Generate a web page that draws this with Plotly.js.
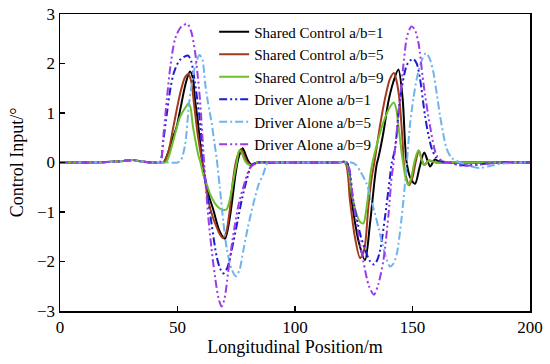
<!DOCTYPE html>
<html>
<head>
<meta charset="utf-8">
<script src="https://cdn.plot.ly/plotly-3.0.1.min.js"></script>
<style>html,body{margin:0;padding:0;background:#fff;}#chart{width:550px;height:364px;}</style>
</head>
<body>
<div id="chart"></div>
<script>
// Shared Control a/b=1
const sc1X = [0,10,20,27,31,35,40,44,46,48,49.6,51.5,53.5,55.3,56.5,57.4,58.6,59.6,60.6,62,63.5,65.2,68,70.2,72.3,74.5,75.5,76.5,77.7,78.8,80,81.6,84,90,100,110,118,122,124.1,127,129.8,131.9,134,134.8,135.5,137.6,139.7,141.8,144,145.8,146.8,147.5,149,151.1,153,155,157.5,159.5,162,170,180,190,200];
const sc1Y = [0,0,0.01,0.03,0.05,0.02,0,0,0.2,0.5,0.71,1.15,1.6,1.84,1.72,1.29,0.85,0.41,0,-0.4,-0.7,-0.95,-1.4,-1.54,-1.1,-0.3,0,0.18,0.29,0.18,0.04,-0.05,0,0,0,0,0,0,-0.77,-1.58,-1.97,-1.24,-0.3,-0.03,0.1,0.6,1.22,1.62,1.88,1.29,0.41,0,-0.3,-0.43,-0.1,0.2,-0.08,0.06,0,0,0,0,0];
// Shared Control a/b=5
const sc5X = [0,10,20,27,31,35,40,44,46,48.2,51.1,53.2,54.6,55.8,57,58.5,60.5,62,63.1,65,66.7,68,69.2,70.5,72,73.5,74.8,75.8,77,78.3,79.5,81,84,90,100,110,118,121.3,123.4,125.5,127.7,129.5,131.2,132.5,134,136.2,138.3,140.4,142.1,143.2,144.4,145.8,146.3,147.3,148.6,150,151.3,152.7,154,155,157,160,170,180,190,200];
const sc5Y = [0,0,0.01,0.03,0.05,0.02,0,0,0.2,0.71,1.39,1.72,1.79,1.65,1.2,0.6,0,-0.45,-0.77,-1.1,-1.31,-1.45,-1.52,-1.45,-1.05,-0.4,0,0.17,0.27,0.15,0.02,-0.05,0,0,0,0,0,0,-0.77,-1.51,-1.93,-1.75,-0.9,-0.35,0.07,0.75,1.29,1.69,1.81,1.65,1.29,0.41,0,-0.3,-0.46,-0.3,0,0.24,0.05,-0.05,0.04,0,0,0,0,0];
// Shared Control a/b=9
const sc9X = [0,10,20,27,31,35,40,45,46.5,48.2,51.1,53.9,54.6,55.5,56.5,57.8,58.9,59.8,61,62.4,64,66,68,69.5,70.8,72,73,74.2,75.2,76.3,77.3,78.5,80,81.6,84,90,100,110,118,121.7,124.1,126.2,127.7,129.1,130.2,131.2,132.2,133.3,135.5,137.6,140.4,142.1,143,144,145.5,146,147,148.2,149.5,151,152.5,154,155,157,160,170,180,190,200];
const sc9Y = [0,0,0.01,0.03,0.05,0.02,0,0,0.15,0.44,0.92,1.15,1.19,1.12,0.75,0.4,0.14,0,-0.25,-0.43,-0.65,-0.83,-0.93,-0.96,-0.95,-0.8,-0.57,-0.25,0,0.25,0.2,0.05,-0.04,-0.05,0,0,0,0,0,0,-0.63,-1.04,-1.2,-1.23,-1.0,-0.63,-0.2,0.07,0.48,0.81,1.12,1.21,1.1,0.75,0.15,0,-0.3,-0.46,-0.3,0.05,0.24,0.05,-0.05,0.04,0,0,0,0,0];
// Driver Alone a/b=1
const da1X = [0,10,20,27,31,35,40,42.5,44,45.5,47,48.5,51,54.4,55.8,57.4,58.6,59.6,60.9,62.5,64.5,66.7,68.2,69.5,71,73,75.9,77.5,79.4,81.6,84,90,100,110,118,122,124.8,127.7,130.5,132,133.6,135,136.2,138.3,140.4,141.2,142.6,144.7,147.5,149,150.4,151.8,153.2,155.3,156.8,158.2,160,162.5,166,170,175,187,200];
const da1Y = [0,0,0.01,0.03,0.05,0.02,0,0,0.45,1.0,1.5,1.82,2.07,2.16,2.05,1.62,1.2,0.81,0.04,-0.6,-1.24,-1.91,-2.15,-2.24,-2.15,-1.78,-1.1,-0.72,-0.36,-0.05,0,0,0,0,0,0,-0.77,-1.44,-1.85,-2.0,-2.06,-1.97,-1.78,-1.1,-0.3,0,0.28,1.29,1.96,2.06,2.09,2.0,1.69,0.95,0.55,0.28,0.1,0.02,0,-0.05,-0.05,0,0];
// Driver Alone a/b=5
const da5X = [0,10,20,27,31,35,40,46,50,51.5,53.2,55,57,58.5,59.3,60.5,61.7,63,64.5,65.7,66.7,68,69.5,71,73,74.9,76.5,78,80,82.3,84.5,86.5,88.5,92,100,110,118,124,126,128,130.5,133,135.5,138.3,140.4,141.8,143.3,145.4,147.5,148.9,150.4,151.8,153.8,155.7,157.3,158.9,160.3,161.7,163,164.5,166.5,168.8,171.5,175,178.7,183,187,195,200];
const da5Y = [0,0,0.01,0.03,0.05,0.02,0,0,0,0.05,0.35,1.22,1.85,2.1,2.17,2.1,1.62,1.2,0.81,0.4,0.07,-0.5,-1.2,-1.75,-2.15,-2.3,-2.15,-1.78,-1.3,-0.83,-0.45,-0.23,0,0,0,0,0,0,-0.05,-0.2,-0.43,-0.85,-1.31,-1.85,-2.1,-2.05,-1.85,-1.1,-0.05,0.75,1.3,1.69,2.05,2.21,2.1,1.82,1.4,0.95,0.6,0.28,0.1,0.03,-0.02,-0.08,-0.11,-0.07,-0.03,0,0];
// Driver Alone a/b=9
const da9X = [0,10,20,27,31,35,40,42.5,44,45.5,47,49,51.5,54.2,55.8,57.4,58.5,59.6,60.9,61.3,63.1,64.5,66,67.5,68.8,70,71.6,73,74.5,76,78,81,84,90,100,110,118,122,124.8,127,129,131.5,133.6,135.5,137.6,139.7,141.1,141.8,144,146.1,147.8,149.6,151,152.5,154.6,157.4,160.3,163,166,170,175,187,200];
const da9Y = [0,0,0.01,0.03,0.05,0.02,0,0,0.55,1.3,1.95,2.5,2.74,2.8,2.65,2.26,1.8,1.25,0.3,0,-1.1,-1.75,-2.32,-2.75,-2.91,-2.75,-2.2,-1.7,-1.24,-0.85,-0.5,-0.1,0,0,0,0,0,0,-0.8,-1.45,-1.98,-2.5,-2.67,-2.45,-1.98,-1.1,-0.3,-0.06,0.95,1.96,2.57,2.75,2.68,2.43,1.62,0.75,0.14,0.02,0,-0.06,-0.06,0,0];

const names = ["Shared Control a/b=1","Shared Control a/b=5","Shared Control a/b=9","Driver Alone a/b=1","Driver Alone a/b=5","Driver Alone a/b=9"];
const colors = ["#000000","#a23a1c","#6cc02e","#1c1cd0","#6fb4ee","#9b3de6"];
const dashes = ["solid","solid","solid","8px,3px,2px,3px,2px,3px","8px,3px,2px,3px","8px,3px,2px,3px,2px,3px"];
const xs = [sc1X,sc5X,sc9X,da1X,da5X,da9X];
const ys = [sc1Y,sc5Y,sc9Y,da1Y,da5Y,da9Y];

const traces = names.map((n,i)=>({
  x: xs[i], y: ys[i], name: n, type: 'scatter', mode: 'lines',
  line: {color: colors[i], width: 2, dash: dashes[i], shape: 'spline', smoothing: 0.8}
}));

const fontFam = 'Liberation Serif, Times New Roman, serif';
const axisCommon = {
  showgrid: false, zeroline: false, showline: true, mirror: true,
  linecolor: '#000', linewidth: 1.5, ticks: 'inside', ticklen: 5, tickwidth: 1.5, tickcolor: '#000',
  tickfont: {family: fontFam, size: 17, color: '#000'}
};
const layout = {
  width: 550, height: 364,
  margin: {l: 60, r: 20, t: 14, b: 53},
  paper_bgcolor: '#fff', plot_bgcolor: '#fff',
  font: {family: fontFam, color: '#000'},
  showlegend: true,
  legend: {x: 0.328, y: 0.995, xanchor: 'left', yanchor: 'top', bgcolor: 'rgba(0,0,0,0)',
           font: {family: fontFam, size: 15, color: '#000'}, tracegroupgap: 0},
  xaxis: Object.assign({}, axisCommon, {range: [0,200], dtick: 50, tick0: 0,
           title: {text: 'Longitudinal Position/m', font: {family: fontFam, size: 18, color: '#000'}, standoff: 4}}),
  yaxis: Object.assign({}, axisCommon, {range: [-3,3], dtick: 1, tick0: 0,
           title: {text: 'Control Input/°', font: {family: fontFam, size: 18, color: '#000'}, standoff: 8}})
};
Plotly.newPlot('chart', traces, layout, {displayModeBar: false, staticPlot: true});
</script>
</body>
</html>
